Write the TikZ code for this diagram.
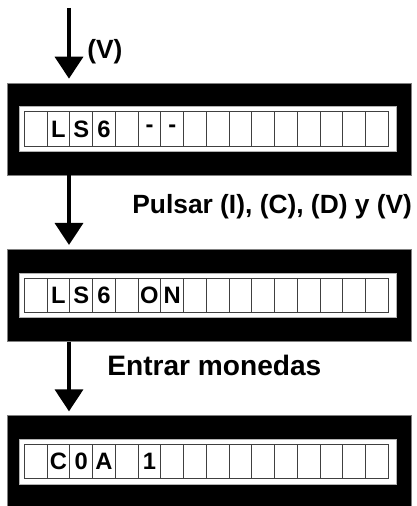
\documentclass[tikz,border=0pt]{standalone}
\usepackage{fontspec}
\setmainfont{Liberation Sans}
\usetikzlibrary{arrows.meta}

\tikzset{
  lcdframe/.style={draw=gray, fill=black, minimum width=8.08cm, minimum height=1.84cm, inner sep=0pt},
  lcdstrip/.style={draw=gray!60, fill=white, minimum width=7.54cm, minimum height=0.89cm, inner sep=0pt},
  lcdcell/.style={draw=black!75, line width=0.6pt, minimum width=0.455cm, minimum height=0.69cm, inner sep=0pt,
    font=\fontsize{13.5}{16}\selectfont\bfseries},
  flow/.style={line width=2.1pt, -{Triangle[width=0.56cm,length=0.44cm]}, shorten >=0.08cm},
  steplabel/.style={anchor=west, inner sep=0pt, font=\fontsize{15}{18}\selectfont\bfseries}
}

\begin{document}
\begin{tikzpicture}[x=0.02cm,y=-0.02cm]
\useasboundingbox (0,0) rectangle (416,506);

% the three displays
\foreach \b/\y in {1/129, 2/295.3, 3/461.7} {
  \node[lcdframe] (lcd\b) at (209.5,\y) {};
  \node[lcdstrip] (strip\b) at (207.7,\y) {};
  \foreach \i in {0,...,15}
    \node[lcdcell] (cell\b-\i) at (35.7+22.75*\i,\y) {};
}

% characters shown on the displays
\foreach \b/\i/\t in {1/1/L, 1/2/S, 1/3/6, 1/5/-, 1/6/-,
                      2/1/L, 2/2/S, 2/3/6, 2/5/O, 2/6/N,
                      3/1/C, 3/2/0, 3/3/A, 3/5/1}
  \node[lcdcell, draw=none] (t\b-\i) at (cell\b-\i) {\t};

% arrows between the displays
\coordinate (in1) at (69,8);
\draw[flow] (in1) -- (in1 |- lcd1.north);
\draw[flow] (lcd1.south -| in1) -- (in1 |- lcd2.north);
\draw[flow] (lcd2.south -| in1) -- (in1 |- lcd3.north);

\node[steplabel] (lab1) at (87,52) {(V)};
\node[steplabel] (lab2) at (132,207) {Pulsar (I), (C), (D) y (V)};
\node[steplabel, font=\fontsize{16}{19}\selectfont\bfseries] (lab3) at (107,365) {Entrar monedas};
\end{tikzpicture}
\end{document}
